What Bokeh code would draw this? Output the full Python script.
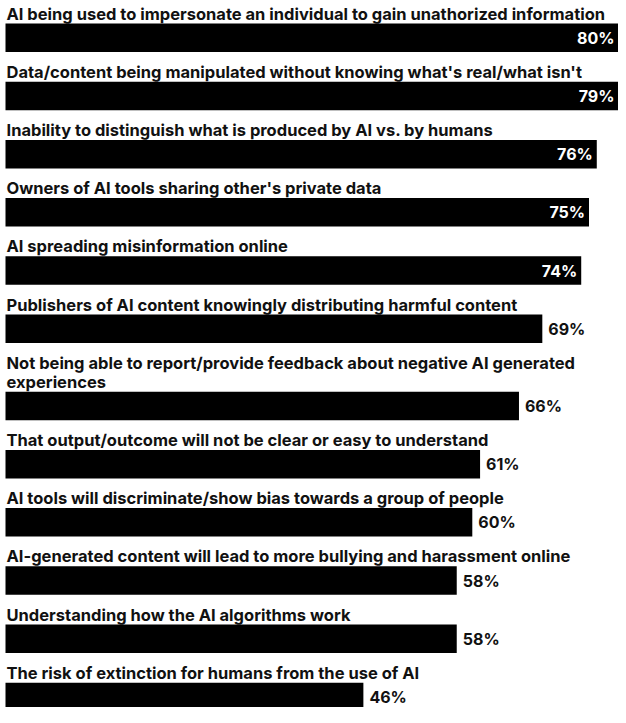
from bokeh.plotting import figure
from bokeh.models import Range1d, ColumnDataSource
from bokeh.core.properties import value
from bokeh.embed import file_html
from bokeh.resources import INLINE

categories = [
    "AI being used to impersonate an individual to gain unathorized information",
    "Data/content being manipulated without knowing what's real/what isn't",
    "Inability to distinguish what is produced by AI vs. by humans",
    "Owners of AI tools sharing other's private data",
    "AI spreading misinformation online",
    "Publishers of AI content knowingly distributing harmful content",
    "Not being able to report/provide feedback about negative AI generated\nexperiences",
    "That output/outcome will not be clear or easy to understand",
    "AI tools will discriminate/show bias towards a group of people",
    "AI-generated content will lead to more bullying and harassment online",
    "Understanding how the AI algorithms work",
    "The risk of extinction for humans from the use of AI",
]
values = [80, 79, 76, 75, 74, 69, 66, 61, 60, 58, 58, 46]

# ---- layout (pixels) ----
W, H = 618, 707
PX_PER_PCT = 7.78
LEFT_PAD = 5
FIRST_BAR_TOP = 23
PITCH = 58.2
LINE = 19
BAR_H = 28.5
LABEL_GAP = 10
INSIDE_MIN = 70
FONT = "Inter"

x0 = -LEFT_PAD / PX_PER_PCT
x1 = (W - LEFT_PAD) / PX_PER_PCT

bar_y, lab_x, lab_y, lab_t = [], [], [], []
extra = 0
for i, cat in enumerate(categories):
    lines = cat.split("\n")
    extra += (len(lines) - 1) * LINE
    top = FIRST_BAR_TOP + i * PITCH + extra
    bar_y.append(top + BAR_H / 2)
    for k, ln in enumerate(lines):
        lab_x.append(0)
        lab_y.append(top - LABEL_GAP - LINE * (len(lines) - 1 - k))
        lab_t.append(ln)

p = figure(width=W, height=H, x_range=Range1d(x0, x1),
           y_range=Range1d(H, 0), output_backend="svg", toolbar_location=None,
           min_border=0, background_fill_color="white", border_fill_color="white")
p.axis.visible = False
p.grid.visible = False
p.outline_line_color = None

bars = ColumnDataSource(dict(y=bar_y, v=values))
p.hbar(y="y", left=0, right="v", height=BAR_H, source=bars,
       fill_color="black", line_color=None)

labs = ColumnDataSource(dict(x=lab_x, y=lab_y, t=lab_t))
p.text(x="x", y="y", text="t", source=labs, x_offset=1,
       text_font=value(FONT), text_font_size="16.5px", text_font_style="bold",
       text_color="#111111", text_baseline="alphabetic", text_align="left")

vin = [(v, y) for v, y in zip(values, bar_y) if v >= INSIDE_MIN]
vout = [(v, y) for v, y in zip(values, bar_y) if v < INSIDE_MIN]
src_in = ColumnDataSource(dict(x=[min(a, x1) for a, _ in vin], y=[b for _, b in vin],
                               t=[f"{a}%" for a, _ in vin]))
src_out = ColumnDataSource(dict(x=[a for a, _ in vout], y=[b for _, b in vout],
                                t=[f"{a}%" for a, _ in vout]))
p.text(x="x", y="y", text="t", source=src_in, x_offset=-4,
       text_font=value(FONT), text_font_size="16px", text_font_style="bold",
       text_color="white", text_baseline="middle", text_align="right")
p.text(x="x", y="y", text="t", source=src_out, x_offset=6,
       text_font=value(FONT), text_font_size="16px", text_font_style="bold",
       text_color="#111111", text_baseline="middle", text_align="left")

open("out.html", "w").write(file_html(p, INLINE))
